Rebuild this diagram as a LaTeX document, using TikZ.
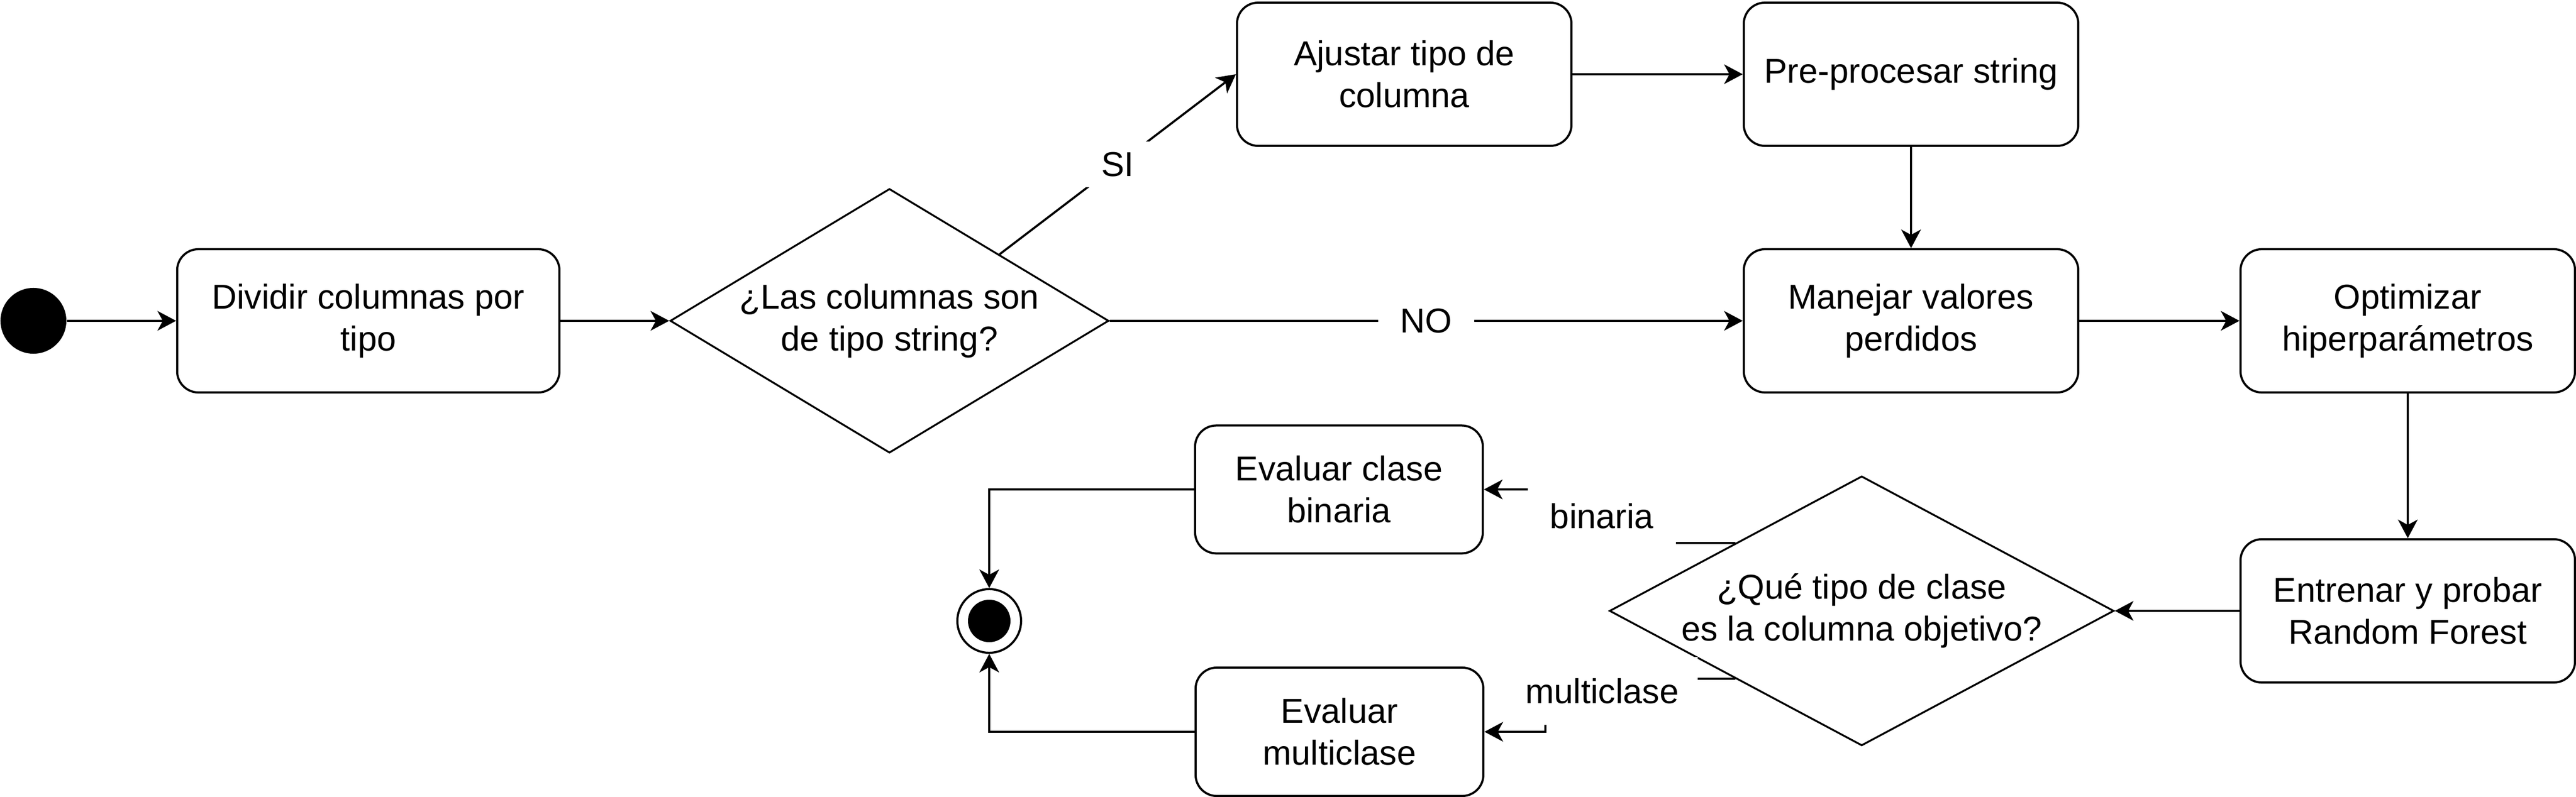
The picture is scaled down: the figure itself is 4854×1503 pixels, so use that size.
\documentclass[tikz,border=0pt]{standalone}
\usepackage{fontspec}
\setmainfont{Liberation Sans}
\usetikzlibrary{shapes.geometric,arrows.meta,calc}

\begin{document}
\begin{tikzpicture}[x=0.01cm, y=-0.01cm,
    font=\fontsize{18.5}{22.5}\selectfont,
    accion/.style={shape=rectangle, rounded corners=0.4cm, draw=black, line width=0.04cm, align=center, minimum width=6.3cm, minimum height=2.7cm},
    decision/.style={shape=diamond, draw=black, line width=0.035cm, inner sep=0pt},
    flecha/.style={line width=0.04cm, -{Stealth[length=0.35cm, width=0.37cm, inset=0.1cm]}},
    etiqueta/.style={fill=white, inner xsep=0.42cm, inner ysep=0.2cm}]
    \useasboundingbox (0,0) rectangle (4854,1503);

    \node[shape=circle, fill=black, minimum size=1.24cm, inner sep=0pt] (inicio) at (63,605) {};
    \node[accion, minimum width=7.2cm] (dividir) at (694,605) {Dividir columnas por\\tipo};
    \node[decision, minimum width=8.26cm, minimum height=4.98cm, label={[align=center]center:{¿Las columnas son\\de tipo string?}}] (string) at (1676,605) {};
    \node[accion] (ajustar) at (2646,140) {Ajustar tipo de\\columna};
    \node[accion] (pre) at (3601,140) {Pre-procesar string};
    \node[accion] (manejar) at (3601,605) {Manejar valores\\perdidos};
    \node[accion] (optimizar) at (4537,605) {Optimizar\\hiperparámetros};
    \node[accion] (entrenar) at (4537,1152) {Entrenar y probar\\Random Forest};
    \node[decision, minimum width=9.5cm, minimum height=5.08cm, label={[align=center]center:{¿Qué tipo de clase\\es la columna objetivo?}}] (tipo) at (3508,1152) {};
    \node[accion, minimum width=5.42cm, minimum height=2.41cm] (binaria) at (2523,923) {Evaluar clase\\binaria};
    \node[accion, minimum width=5.42cm, minimum height=2.42cm] (multiclase) at (2524,1380) {Evaluar\\multiclase};
    \node[shape=circle, draw=black, line width=0.04cm, minimum size=1.2cm, path picture={\fill[black] (path picture bounding box.center) circle (0.4cm);}] (fin) at (1864,1171) {};

    \path[flecha] (inicio) edge (dividir);
    \path[flecha] (dividir) edge (string);
    \path[flecha] (string) edge node[etiqueta] {NO} (manejar);
    \coordinate (si) at ($(string.north)!0.5!(string.east)$);
    \path[flecha] (si) edge node[etiqueta] {SI} (ajustar.west);
    \path[flecha] (ajustar) edge (pre);
    \path[flecha] (pre) edge (manejar);
    \path[flecha] (manejar) edge (optimizar);
    \path[flecha] (optimizar) edge (entrenar);
    \path[flecha] (entrenar) edge (tipo);

    % salidas de la decision final
    \coordinate (sbin) at ($(tipo.west)!0.5!(tipo.north)$);
    \coordinate (smul) at ($(tipo.west)!0.5!(tipo.south)$);
    \draw[flecha] (sbin) -- ++(-251,0) |- node[pos=0.25, etiqueta, minimum height=1.1cm] {binaria} (binaria);
    \draw[flecha] (smul) -- ++(-358,0) |- (multiclase);
    \node[etiqueta, inner xsep=0.35cm, minimum height=1.28cm] (lmul) at (3019,1303) {multiclase};
    \draw[flecha] (binaria) -| (fin);
    \draw[flecha] (multiclase) -| (fin);
\end{tikzpicture}
\end{document}
